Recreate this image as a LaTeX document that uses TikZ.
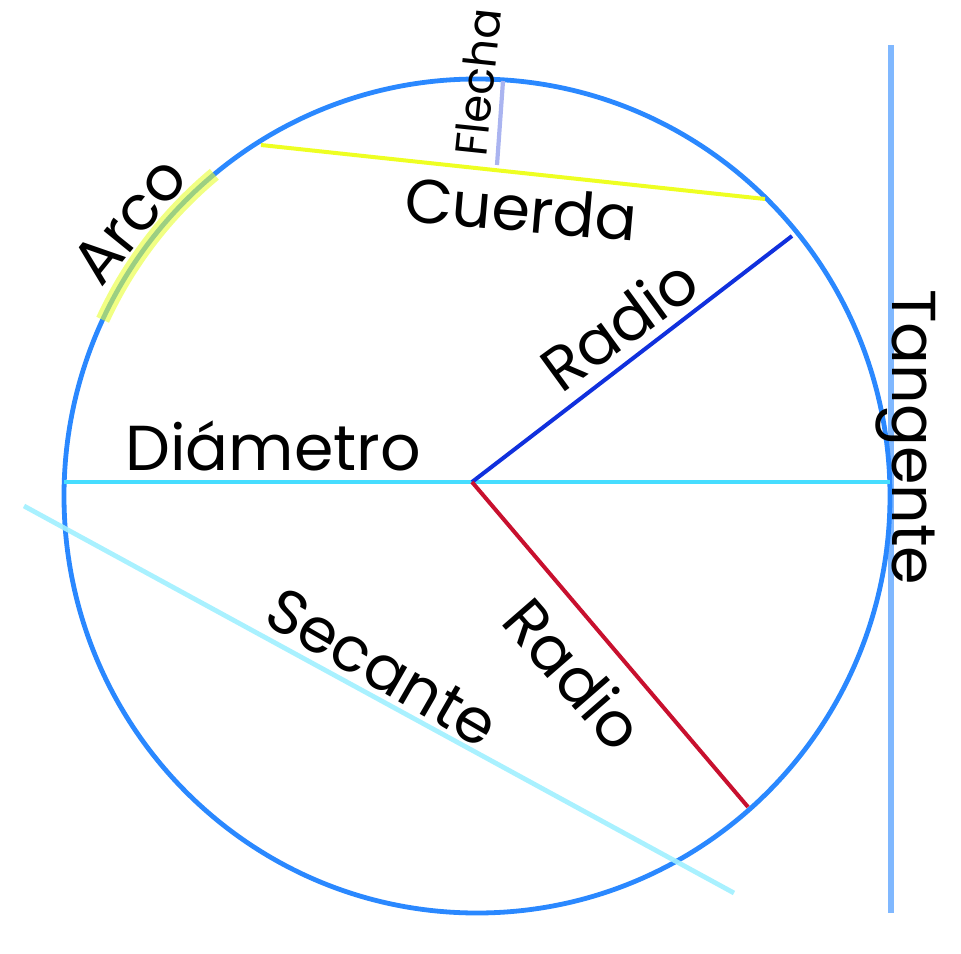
\documentclass[tikz,border=0pt]{standalone}
\usepackage{fontspec}
\setmainfont{Poppins}
\definecolor{circ}{HTML}{2A88FF}
\definecolor{diamc}{HTML}{46DDFF}
\definecolor{radA}{HTML}{1030DD}
\definecolor{radB}{HTML}{C8102E}
\definecolor{chordc}{HTML}{EEFF22}
\definecolor{flechac}{HTML}{AAB4F0}
\definecolor{secc}{HTML}{A0F0FF}
\definecolor{tangc}{HTML}{80B8FF}
\definecolor{arcc}{HTML}{E8FF30}
\begin{document}
\begin{tikzpicture}[x=1pt,y=-1pt,
  lbl/.style={font=\fontsize{62}{62}\selectfont, inner sep=0pt, anchor=base west, text=black},
  seg/.style={line width=#1, line cap=butt}]
\useasboundingbox (0,0) rectangle (961,953);
% key points
\coordinate (C) at (477,496);
\coordinate (O) at (472,482);
\coordinate (dL) at (64,482);
\coordinate (dR) at (890,482);
\coordinate (rA) at (792,236);
\coordinate (rB) at (748,807);
\coordinate (chL) at (261,145);
\coordinate (chR) at (765,199);
\coordinate (flB) at (497,165);
\coordinate (flT) at (503,81);
\coordinate (sA) at (24,506);
\coordinate (sB) at (734,893);
\coordinate (tT) at (891,45);
\coordinate (tB) at (891,913);
% lines
\draw[tangc, seg=5.5] (tT) -- (tB);
\draw[circ, line width=4.8pt] (C) ellipse [x radius=413pt, y radius=417pt];
\draw[secc, seg=4.8, opacity=0.9] (sA) -- (sB);
\draw[diamc, seg=4] (dL) -- (dR);
\draw[radA, seg=4] (O) -- (rA);
\draw[radB, seg=4] (O) -- (rB);
\draw[chordc, seg=4] (chL) -- (chR);
\draw[flechac, seg=4.2] (flB) -- (flT);
\draw[arcc, line width=14pt, opacity=0.6] (C) ++(129.5:413pt and 417pt) arc[start angle=129.5, end angle=155, x radius=413pt, y radius=417pt];
% labels
\node[lbl, rotate=51] (arco) at (101,289) {Arco};
\node[lbl, rotate=84, font=\fontsize{45}{45}\selectfont] (flecha) at (486,158) {Flecha};
\node[lbl, rotate=-5] (cuerda) at (403,221) {Cuerda};
\node[lbl, rotate=36] (radioA) at (561,395) {Radio};
\node[lbl, font=\fontsize{63.5}{63.5}\selectfont] (diam) at (125,470) {Diámetro};
\node[lbl, rotate=-90] (tang) at (892,289) {Tangente};
\node[lbl, rotate=-30] (sec) at (261,622) {Secante};
\node[lbl, rotate=-49] (radioB) at (499,622) {Radio};
\end{tikzpicture}
\end{document}
